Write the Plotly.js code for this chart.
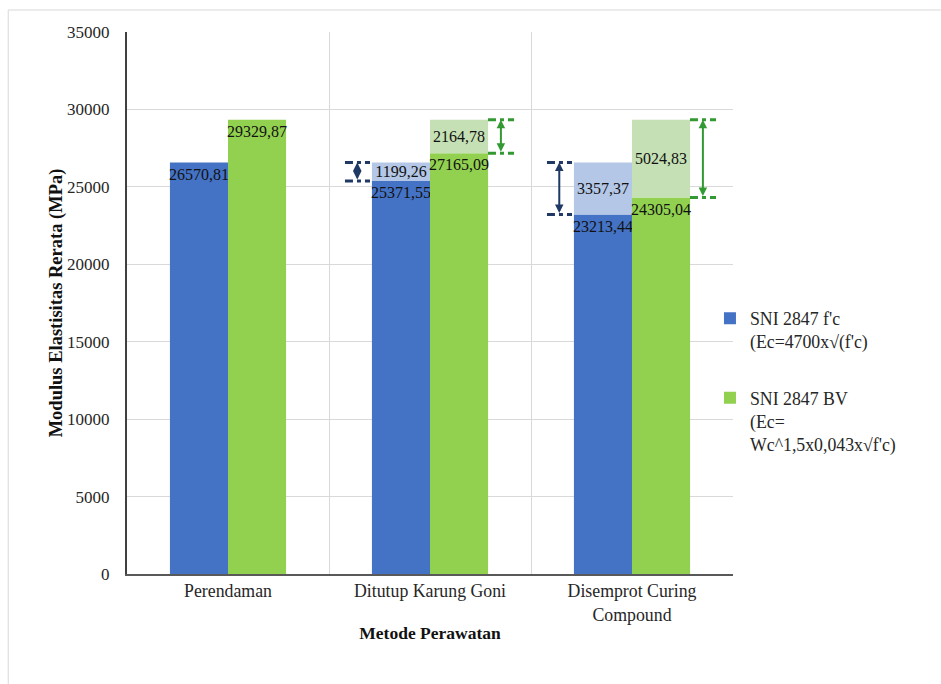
<!DOCTYPE html>
<html>
<head>
<meta charset="utf-8">
<script src="https://cdn.plot.ly/plotly-3.0.1.min.js"></script>
<style>
  html, body { margin: 0; padding: 0; background: #ffffff; }
  #chart { width: 941px; height: 684px; }
</style>
</head>
<body>
<div id="chart"></div>
<script>
// Curing methods on the category axis
const categories = ['Perendaman', 'Ditutup Karung Goni', 'Disemprot Curing<br>Compound'];

// SNI 2847 f'c : measured value and the shortfall to the reference (Perendaman)
const fcBase = [26570.81, 25371.55, 23213.44];
const fcGap  = [null, 1199.26, 3357.37];

// SNI 2847 BV : measured value and the shortfall to the reference (Perendaman)
const bvBase = [29329.87, 27165.09, 24305.04];
const bvGap  = [null, 2164.78, 5024.83];

const seriesNames = [
  "SNI 2847 f'c<br>(Ec=4700x√(f'c)",
  "SNI 2847 BV<br>(Ec=<br>Wc^1,5x0,043x√f'c)"
];

const FONT = 'Liberation Serif';
const fmt = v => (v === null || v === undefined) ? '' : v.toFixed(2).replace('.', ',');

const BLUE = '#4472C4', BLUE_L = '#B4C7E7', NAVY = '#1F3864';
const GREEN = '#92D050', GREEN_L = '#C5E0B4', DGREEN = '#339933';

const labelFont = { family: FONT, size: 16, color: '#111111' };

function barTrace(y, base, color, group, name, showLeg, anchor, legGroup) {
  const t = {
    type: 'bar',
    x: categories,
    y: y,
    offsetgroup: group,
    name: name,
    legendgroup: legGroup,
    showlegend: showLeg,
    marker: { color: color, line: { width: 0 } },
    text: y.map(fmt),
    textposition: 'inside',
    insidetextanchor: anchor,
    textangle: 0,
    constraintext: 'none',
    textfont: labelFont,
    insidetextfont: labelFont,
    cliponaxis: false,
    hoverinfo: 'skip'
  };
  if (base) t.base = base;
  return t;
}

const traces = [
  barTrace(fcBase, null, BLUE, 'fc', seriesNames[0], true, 'end', 'g1'),
  barTrace(fcGap, fcBase, BLUE_L, 'fc', seriesNames[0], false, 'middle', 'g1'),
  barTrace(bvBase, null, GREEN, 'bv', seriesNames[1], true, 'end', 'g2'),
  barTrace(bvGap, bvBase, GREEN_L, 'bv', seriesNames[1], false, 'middle', 'g2')
];

// Dimension brackets marking each shortfall segment
const shapes = [];
const annotations = [];
function bracket(i, lo, hi, xa, xb, xm, color) {
  [lo, hi].forEach(v => shapes.push({
    type: 'line', xref: 'x', yref: 'y',
    x0: i + xa, x1: i + xb, y0: v, y1: v,
    line: { color: color, width: 3, dash: '8px,4px,4px,4px' }
  }));
  annotations.push({
    xref: 'x', yref: 'y', axref: 'x', ayref: 'y',
    x: i + xm, y: hi, ax: i + xm, ay: lo,
    text: '', showarrow: true, arrowside: 'end+start',
    arrowhead: 2, arrowsize: 0.85, arrowwidth: 2, arrowcolor: color,
    standoff: 0, startstandoff: 0
  });
}
categories.forEach((c, i) => {
  if (fcGap[i]) bracket(i, fcBase[i], fcBase[i] + fcGap[i], -0.421, -0.297, -0.36, NAVY);
  if (bvGap[i]) bracket(i, bvBase[i], bvBase[i] + bvGap[i], 0.287, 0.416, 0.351, DGREEN);
});

// Light frame around the chart area
shapes.push({
  type: 'rect', xref: 'paper', yref: 'paper',
  x0: -0.196, x1: 1.6, y0: -0.4, y1: 1.0406,
  line: { color: '#d9d9d9', width: 1 }, fillcolor: 'rgba(0,0,0,0)', layer: 'below'
});

const layout = {
  width: 941,
  height: 684,
  margin: { l: 127, r: 208, t: 32, b: 110 },
  paper_bgcolor: '#ffffff',
  plot_bgcolor: '#ffffff',
  font: { family: FONT, size: 17, color: '#262626' },
  barmode: 'group',
  bargap: 0.425,
  bargroupgap: 0,
  showlegend: true,
  legend: {
    x: 0.962, xanchor: 'left',
    y: 0.505, yanchor: 'top',
    valign: 'top',
    traceorder: 'grouped',
    tracegroupgap: 30,
    bgcolor: 'rgba(0,0,0,0)',
    font: { family: FONT, size: 17.8, color: '#262626' }
  },
  xaxis: {
    type: 'category',
    tickson: 'boundaries',
    showgrid: true,
    gridcolor: '#d9d9d9',
    gridwidth: 1,
    showline: true,
    linecolor: '#595959',
    linewidth: 2,
    ticks: 'outside',
    ticklen: 9,
    tickcolor: 'rgba(0,0,0,0)',
    tickfont: { family: FONT, size: 17.8, color: '#262626' },
    title: {
      text: 'Metode Perawatan',
      font: { family: FONT, size: 17.5, color: '#111111', weight: 'bold' },
      standoff: 3
    },
    fixedrange: true
  },
  yaxis: {
    range: [0, 35000],
    dtick: 5000,
    tickformat: 'd',
    showgrid: true,
    gridcolor: '#d9d9d9',
    gridwidth: 1,
    zeroline: false,
    showline: true,
    linecolor: '#404040',
    linewidth: 2,
    ticks: 'outside',
    ticklen: 12,
    tickcolor: 'rgba(0,0,0,0)',
    tickfont: { family: FONT, size: 17, color: '#262626' },
    title: {
      text: 'Modulus Elastisitas Rerata (MPa)',
      font: { family: FONT, size: 18.5, color: '#111111', weight: 'bold' },
      standoff: 0
    },
    fixedrange: true
  },
  shapes: shapes,
  annotations: annotations
};

Plotly.newPlot('chart', traces, layout, { displayModeBar: false, staticPlot: true });
</script>
</body>
</html>
